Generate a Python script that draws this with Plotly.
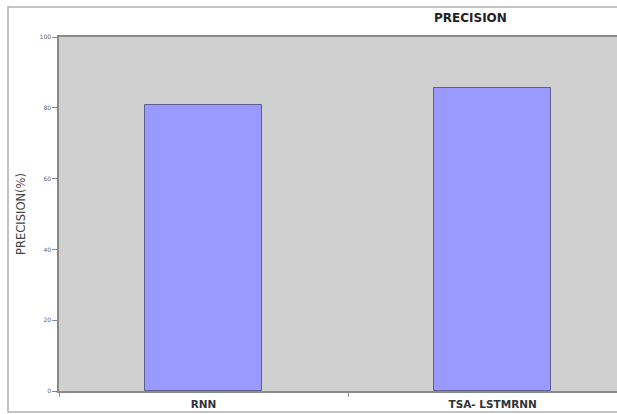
import plotly.graph_objects as go

# Precision of each model, in percent
models = ["RNN", "TSA- LSTMRNN"]
precision = [80.8, 85.6]
y_ticks = [0, 20, 40, 60, 80, 100]

W, H = 617, 414
ML, MR, MT, MB = 59, 0, 37, 23
PW, PH = W - ML - MR, H - MT - MB

def px_x(x):
    return (x - ML) / PW

def px_y(y):
    return 1 - (y - MT) / PH

fig = go.Figure()
fig.add_trace(go.Bar(
    x=models,
    y=precision,
    width=0.405,
    marker=dict(color="#9999FF", line=dict(color="#5f5f8f", width=1)),
))

# Outer chart frame (its right side runs past the page edge)
fig.add_shape(type="rect", xref="paper", yref="paper",
              x0=px_x(8), x1=px_x(660), y0=px_y(412), y1=px_y(7),
              line=dict(color="#b0b0b0", width=1.5), fillcolor="rgba(0,0,0,0)",
              layer="below")

fig.add_annotation(text="<b>PRECISION</b>", xref="paper", yref="paper",
                   x=px_x(470), y=px_y(18), xanchor="center", yanchor="middle",
                   showarrow=False,
                   font=dict(family="DejaVu Sans", size=12, color="#222"))

fig.update_layout(
    width=W, height=H,
    margin=dict(l=ML, r=MR, t=MT, b=MB),
    paper_bgcolor="white",
    plot_bgcolor="#d0d0d0",
    showlegend=False,
    bargap=0,
)
fig.update_xaxes(
    range=[-0.5, 1.43],
    tickson="boundaries",
    ticks="outside", ticklen=4, tickcolor="#999",
    showline=True, linecolor="#8a8a8a", linewidth=1.5, mirror=True,
    showgrid=False,
    tickfont=dict(family="DejaVu Sans", size=10.5, color="#333"),
    ticklabelstandoff=3,
    tickprefix="<b>", ticksuffix="</b>",
)
fig.update_yaxes(
    range=[0, 100],
    tickvals=y_ticks,
    ticks="outside", ticklen=5, tickcolor="#888",
    showline=True, linecolor="#8a8a8a", linewidth=1.5, mirror=False,
    showgrid=False, zeroline=False,
    tickfont=dict(family="DejaVu Sans", size=6, color="#666"),
    title=dict(text="PRECISION(%)", standoff=12,
               font=dict(family="DejaVu Sans", size=11.5, color="#444")),
)

fig.write_html("out.html")
